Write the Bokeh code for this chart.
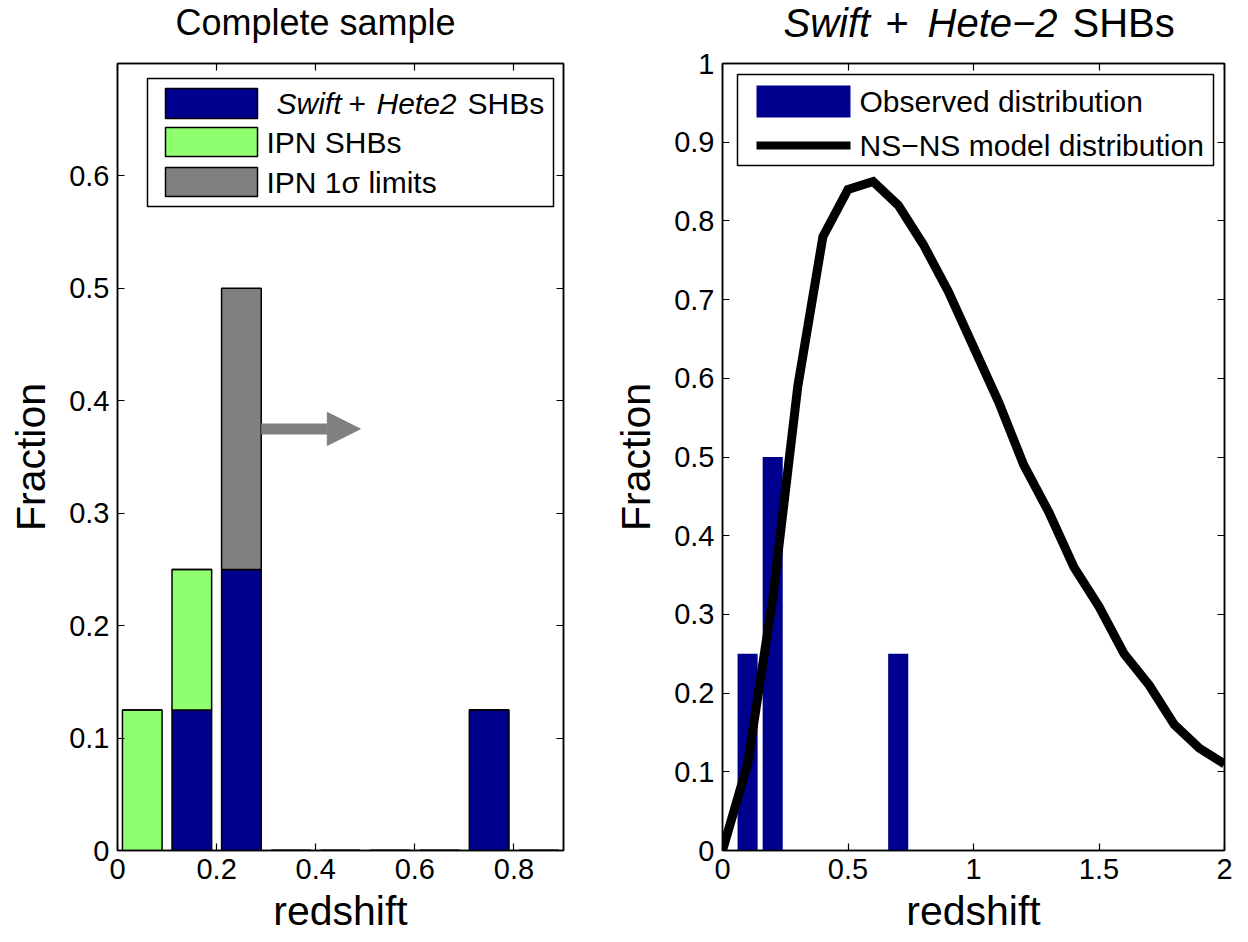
from bokeh.plotting import figure
from bokeh.models import (Range1d, LinearAxis, FixedTicker, CustomJSTickFormatter,
                          Label, BoxAnnotation, Arrow, NormalHead)
from bokeh.layouts import row, column
from bokeh.embed import file_html
from bokeh.resources import INLINE

# ---------------- data ----------------
# Left panel: complete sample histogram (stacked)
bin_centers = [0.05, 0.15, 0.25, 0.35, 0.45, 0.55, 0.65, 0.75, 0.85]
swift_hete2 = [0.0, 0.125, 0.25, 0.0, 0.0, 0.0, 0.0, 0.125, 0.0]
ipn_shbs = [0.125, 0.125, 0.0, 0.0, 0.0, 0.0, 0.0, 0.0, 0.0]
ipn_limits = [0.0, 0.0, 0.25, 0.0, 0.0, 0.0, 0.0, 0.0, 0.0]
bar_width_left = 0.08
arrow_x = [0.29, 0.49]
arrow_y = 0.375

# Right panel: observed distribution and NS-NS model
obs_centers = [0.1, 0.2, 0.7]
obs_fraction = [0.25, 0.5, 0.25]
bar_width_right = 0.08
model_z = [0.0, 0.1, 0.2, 0.3, 0.4, 0.5, 0.6, 0.7, 0.8, 0.9, 1.0,
           1.1, 1.2, 1.3, 1.4, 1.5, 1.6, 1.7, 1.8, 1.9, 2.0]
model_frac = [0.0, 0.11, 0.32, 0.59, 0.78, 0.84, 0.85, 0.82, 0.77, 0.71, 0.64,
              0.57, 0.49, 0.43, 0.36, 0.31, 0.25, 0.21, 0.16, 0.13, 0.11]

left_xticks = [0, 0.2, 0.4, 0.6, 0.8]
left_yticks = [0, 0.1, 0.2, 0.3, 0.4, 0.5, 0.6]
right_xticks = [0, 0.5, 1, 1.5, 2]
right_yticks = [0, 0.1, 0.2, 0.3, 0.4, 0.5, 0.6, 0.7, 0.8, 0.9, 1.0]

# ---------------- style ----------------
FONT = "Liberation Sans"
NAVY = "#00008F"
GREEN = "#8FFF70"
GRAY = "#808080"
TICK_FS = "29px"
LABEL_FS = "41px"
LEG_FS = "30px"

# pixel geometry of the two frames
TITLE_H = 45
L_LEFT, L_RIGHT, TOP, BOTTOM = 117, 563, 63, 850
R_LEFT, R_RIGHT = 722, 1224
W1 = 610
W2 = 630
H_MAIN = 895
L_X = (0.0, 0.9)
L_Y = (0.0, 0.7)
R_X = (0.0, 2.0)
R_Y = (0.0, 1.0)


def lx(px):
    return L_X[0] + (L_X[1] - L_X[0]) * (px - L_LEFT) / (L_RIGHT - L_LEFT)


def ly(py):
    return L_Y[0] + (L_Y[1] - L_Y[0]) * (BOTTOM - py) / (BOTTOM - TOP)


def rx(px):
    return R_X[0] + (R_X[1] - R_X[0]) * (px - R_LEFT) / (R_RIGHT - R_LEFT)


def ry(py):
    return R_Y[0] + (R_Y[1] - R_Y[0]) * (BOTTOM - py) / (BOTTOM - TOP)


fmt_code = "return String(Number(tick.toFixed(2)))"


def style(p, xticks, yticks):
    p.grid.visible = False
    p.outline_line_color = "black"
    p.outline_line_width = 1.5
    p.xaxis.ticker = FixedTicker(ticks=xticks)
    p.yaxis.ticker = FixedTicker(ticks=yticks)
    for ax in (p.xaxis[0], p.yaxis[0]):
        ax.formatter = CustomJSTickFormatter(code=fmt_code)
        ax.major_tick_in = 7
        ax.major_tick_out = 0
        ax.minor_tick_line_color = None
        ax.axis_line_width = 1.5
        ax.major_tick_line_width = 1.2
        ax.major_label_text_font = FONT
        ax.major_label_text_font_size = TICK_FS
        ax.major_label_text_color = "black"
        ax.axis_label_text_font = FONT
        ax.axis_label_text_font_size = LABEL_FS
        ax.axis_label_text_font_style = "normal"
        ax.axis_label_text_color = "black"
    p.xaxis.major_label_standoff = 8
    p.yaxis.major_label_standoff = 8
    p.xaxis.axis_label_standoff = 6
    p.yaxis.axis_label_standoff = 12
    p.xaxis.axis_label = "redshift"
    p.yaxis.axis_label = "Fraction"
    top = LinearAxis(ticker=FixedTicker(ticks=xticks),
                     formatter=CustomJSTickFormatter(code="return ''"))
    right = LinearAxis(ticker=FixedTicker(ticks=yticks),
                       formatter=CustomJSTickFormatter(code="return ''"))
    for ax in (top, right):
        ax.major_tick_in = 7
        ax.major_tick_out = 0
        ax.minor_tick_line_color = None
        ax.axis_line_width = 1.5
        ax.major_tick_line_width = 1.2
        ax.major_label_standoff = 0
    p.add_layout(top, "above")
    p.add_layout(right, "right")


def lab(p, x, y, text, size, style="normal", align="left"):
    p.add_layout(Label(x=x, y=y, text=text, text_font=FONT, text_font_size=size,
                       text_font_style=style, text_color="black",
                       text_align=align, text_baseline="middle"))


# ---------------- title strip ----------------
pt = figure(width=W1 + W2, height=TITLE_H, x_range=Range1d(0, W1 + W2),
            y_range=Range1d(TITLE_H, 0), output_backend="svg", toolbar_location=None,
            min_border=0)
pt.axis.visible = False
pt.grid.visible = False
pt.outline_line_color = None
pt.scatter([0], [0], alpha=0)  # invisible anchor so the plot has a renderer
lab(pt, 315, 22, "Complete sample", "36px", align="center")
lab(pt, 783, 22, "Swift", "40px", "italic")
lab(pt, 885, 22, "+", "40px")
lab(pt, 927, 22, "Hete\u22122", "40px", "italic")
lab(pt, 1072, 22, "SHBs", "40px")

# ---------------- left panel ----------------
p1 = figure(width=W1, height=H_MAIN, x_range=Range1d(*L_X), y_range=Range1d(*L_Y),
            output_backend="svg", toolbar_location=None,
            min_border_left=L_LEFT, min_border_right=W1 - L_RIGHT,
            min_border_top=TOP - TITLE_H, min_border_bottom=H_MAIN - (BOTTOM - TITLE_H))
style(p1, left_xticks, left_yticks)

base2 = [a + b for a, b in zip(swift_hete2, ipn_shbs)]
top3 = [a + b for a, b in zip(base2, ipn_limits)]
p1.vbar(x=bin_centers, width=bar_width_left, bottom=0, top=swift_hete2,
        fill_color=NAVY, line_color="black", line_width=1.5)
p1.vbar(x=bin_centers, width=bar_width_left, bottom=swift_hete2, top=base2,
        fill_color=GREEN, line_color="black", line_width=1.5)
p1.vbar(x=bin_centers, width=bar_width_left, bottom=base2, top=top3,
        fill_color=GRAY, line_color="black", line_width=1.5)

p1.add_layout(Arrow(end=NormalHead(size=33, fill_color=GRAY, line_color=GRAY),
                    x_start=arrow_x[0], y_start=arrow_y, x_end=arrow_x[1], y_end=arrow_y,
                    line_color=GRAY, line_width=11))

# legend (custom, for mixed italic text)
p1.add_layout(BoxAnnotation(left=lx(147), right=lx(553), top=ly(78), bottom=ly(206),
                            fill_color="white", fill_alpha=1.0, line_color="black",
                            line_alpha=1.0, line_width=1.5))
for (t, b), col in zip([(88, 118), (127, 156), (167, 196)], [NAVY, GREEN, GRAY]):
    p1.add_layout(BoxAnnotation(left=lx(165), right=lx(257), top=ly(t), bottom=ly(b),
                                fill_color=col, fill_alpha=1.0, line_color="black",
                                line_alpha=1.0, line_width=1.5))
lab(p1, lx(276), ly(103), "Swift", LEG_FS, "italic")
lab(p1, lx(348), ly(103), "+", LEG_FS)
lab(p1, lx(376), ly(103), "Hete2", LEG_FS, "italic")
lab(p1, lx(467), ly(103), "SHBs", LEG_FS)
lab(p1, lx(266), ly(142), "IPN SHBs", LEG_FS)
lab(p1, lx(266), ly(182), "IPN 1\u03c3 limits", LEG_FS)

# ---------------- right panel ----------------
p2 = figure(width=W2, height=H_MAIN, x_range=Range1d(*R_X), y_range=Range1d(*R_Y),
            output_backend="svg", toolbar_location=None,
            min_border_left=R_LEFT - W1, min_border_right=W2 - (R_RIGHT - W1),
            min_border_top=TOP - TITLE_H, min_border_bottom=H_MAIN - (BOTTOM - TITLE_H))
style(p2, right_xticks, right_yticks)

p2.vbar(x=obs_centers, width=bar_width_right, bottom=0, top=obs_fraction,
        fill_color=NAVY, line_color=None)
p2.line(model_z, model_frac, line_color="black", line_width=9, line_join="miter")

p2.add_layout(BoxAnnotation(left=rx(737), right=rx(1213), top=ry(74), bottom=ry(165),
                            fill_color="white", fill_alpha=1.0, line_color="black",
                            line_alpha=1.0, line_width=1.5))
p2.add_layout(BoxAnnotation(left=rx(756), right=rx(850), top=ry(85), bottom=ry(117),
                            fill_color=NAVY, fill_alpha=1.0, line_color=None))
p2.add_layout(BoxAnnotation(left=rx(756), right=rx(850), top=ry(141), bottom=ry(149),
                            fill_color="black", fill_alpha=1.0, line_color=None))
lab(p2, rx(859), ry(101), "Observed distribution", LEG_FS)
lab(p2, rx(859), ry(145), "NS\u2212NS model distribution", LEG_FS)

layout = column(pt, row(p1, p2))
open("out.html", "w").write(file_html(layout, INLINE))
